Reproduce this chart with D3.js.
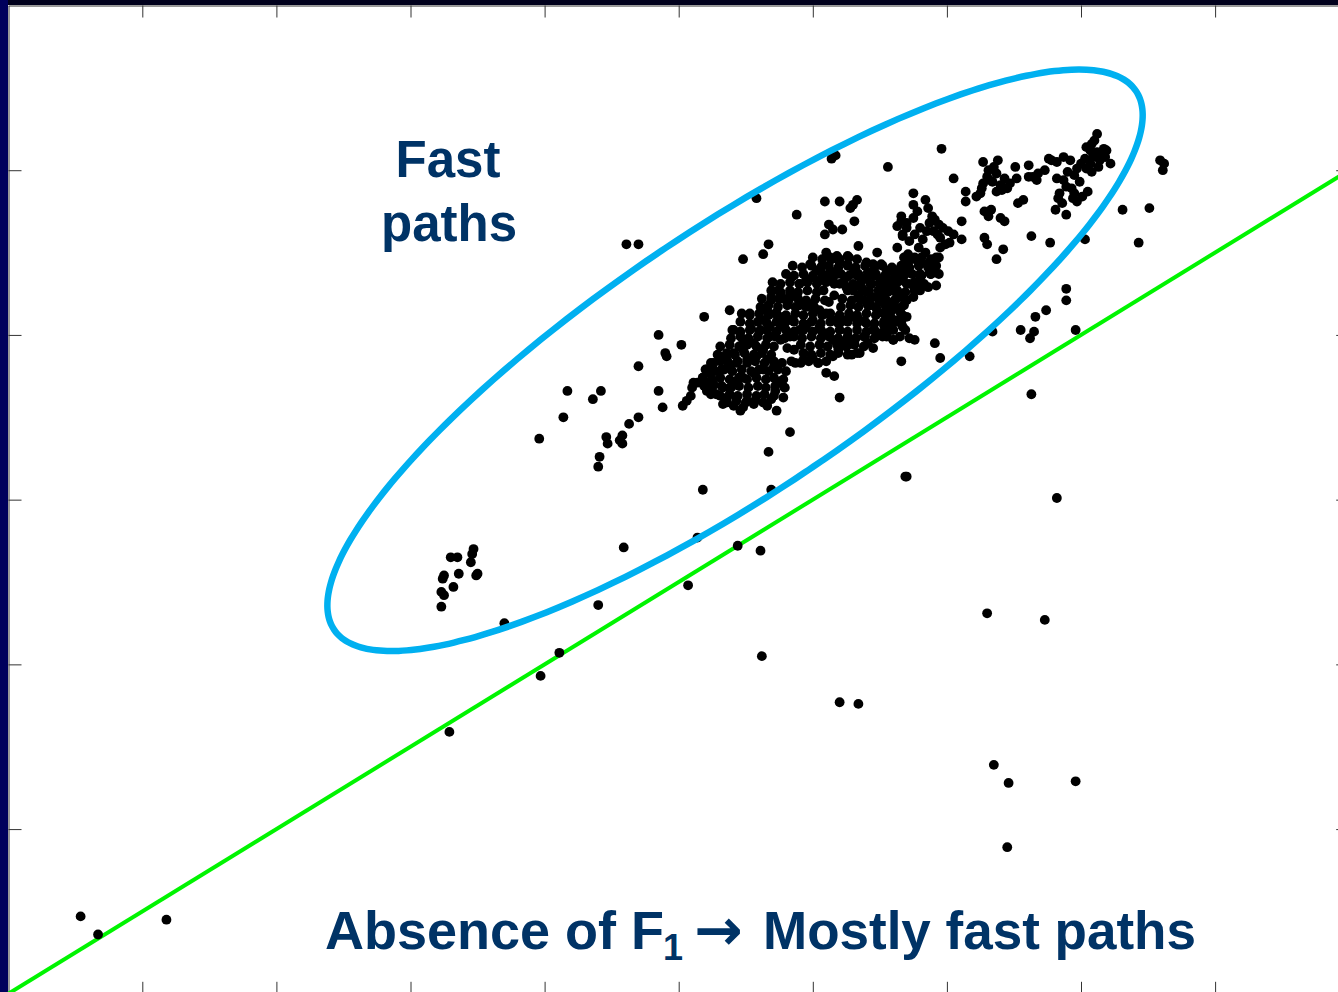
<!DOCTYPE html>
<html><head><meta charset="utf-8">
<script src="https://cdn.jsdelivr.net/npm/d3@7"></script>
<style>html,body{margin:0;padding:0;background:#fff;overflow:hidden}</style>
</head><body>
<svg id="chart" width="1338" height="992"></svg>
<script>
// ---- data (unlabelled axes: x 0..10, y 0..6) ----
const xTicks = [1,2,3,4,5,6,7,8,9];
const yTicks = [1,2,3,4,5];
const refLine = [[0,0],[10,5]];
const ellipseCenter = [5.42, 3.846];
const ellipseMajor = [2.99, 1.635];
const ellipseMinor = [0.549, -0.665];
const labelFast = ["Fast", "paths"];
const labelBottom = ["Absence of F", "1", "\u2192", "Mostly fast paths"];

const outlierPts = [[0.54,0.47],[0.67,0.36],[1.18,0.45],[3.29,1.59],[3.97,1.93],[4.11,2.07],[3.70,2.25],[4.40,2.36],[4.59,2.71],[5.07,2.48],[5.14,2.77],[5.44,2.72],[5.61,2.69],[5.62,2.05],[6.20,1.77],[6.34,1.76],[7.30,2.31],[7.73,2.27],[7.35,1.39],[7.46,1.28],[7.96,1.29],[7.45,0.89],[7.82,3.01],[6.69,3.14],[6.70,3.14],[5.18,3.06],[5.69,3.06],[5.67,3.29],[7.63,3.64],
[7.89,4.28],[7.89,4.21],[7.74,4.15],[7.66,4.11],[7.55,4.03],[7.65,4.02],[7.62,3.98],[7.96,4.03],[7.34,4.02],[7.17,3.87],
[8.43,4.56],[8.51,4.77],[8.31,4.76],[8.59,5.06],[8.62,5.04],[8.61,5.00],[8.03,4.58],[7.77,4.56],[7.63,4.60]];

const lowerCluster = [[3.30,2.65],[3.35,2.65],[3.47,2.70],[3.46,2.67],[3.45,2.62],[3.25,2.54],[3.24,2.52],[3.36,2.55],[3.50,2.55],[3.49,2.54],[3.32,2.47],[3.23,2.44],[3.25,2.42],[3.23,2.35]];

const leftScatter = [[3.96,3.37],[4.17,3.66],[4.14,3.50],[4.36,3.61],[4.42,3.66],[4.40,3.20],[4.41,3.26],[4.46,3.38],[4.47,3.34],[4.58,3.39],[4.56,3.36],[4.58,3.34],[4.63,3.46],[4.70,3.50],[4.61,4.55],[4.70,4.55],[4.85,4.00],[4.90,3.89],[4.91,3.87],[5.02,3.94],[4.70,3.81],[4.85,3.66],[4.88,3.56]];

const upperCluster = [[8.12,5.22],[8.08,5.16],[8.04,5.14],[8.07,5.12],[8.12,5.11],[8.17,5.13],[8.19,5.12],[8.09,5.08],[8.14,5.06],[8.07,5.04],[8.04,5.01],[8.08,4.99],[8.13,5.02],[8.22,5.04],[8.18,5.08],[8.00,5.04],[7.97,5.01],[7.92,5.06],[7.87,5.08],[7.82,5.05],[7.78,5.06],[7.76,5.07],[7.87,4.94],[7.82,4.95],[7.89,4.90],[7.93,4.89],[7.84,4.86],[7.83,4.83],[7.94,4.83],[7.97,4.81],[8.01,4.84],[8.05,4.87],[7.99,4.93],[7.81,4.76],[7.89,4.73],[7.73,5.00],[7.68,4.98],[7.64,4.96],[7.61,4.96],[7.61,5.03],[7.67,4.94],[7.51,5.02],[7.52,4.95],[7.47,4.92],[7.45,4.89],[7.41,4.88],[7.40,4.91],[7.37,4.98],[7.38,5.06],[7.31,5.00],[7.30,4.96],[7.32,4.94],[7.37,4.87],[7.27,5.05],[7.27,4.92],[7.25,4.86],[7.22,4.84],[7.28,4.75],[7.31,4.72],[7.33,4.76],[7.40,4.71],[7.43,4.69],[7.28,4.59],[7.30,4.55],[7.37,4.46],[7.42,4.52],[7.53,4.80],[7.57,4.82],[7.05,4.95],[7.14,4.87],[7.14,4.81],[7.11,4.69],[6.96,5.13],
[8.10,5.18],[8.15,5.09],[8.03,5.07],[7.95,4.97],[7.90,4.99],[7.34,4.93],[7.35,5.02],[7.43,4.95],[7.26,4.89],[7.95,4.86],[7.86,4.80]];

const upperMiddle = [[6.75,4.86],[6.75,4.79],[6.75,4.71],[6.84,4.82],[6.86,4.77],[6.89,4.72],[6.91,4.70],[6.94,4.67],[6.97,4.65],[7.01,4.63],[7.05,4.61],[7.11,4.58],[7.02,4.56],[6.95,4.59],[6.90,4.63],[6.85,4.63],[6.80,4.65],[6.76,4.61],[6.70,4.68],[6.66,4.72],[6.67,4.61],[6.72,4.57],[6.79,4.53],[6.71,4.49],[6.70,4.43],[6.80,4.37],[6.89,4.43],[6.92,4.47],[6.95,4.53],[6.99,4.55],[6.91,4.38],
[6.17,5.09],[6.14,5.07],[6.56,5.02],[5.58,4.83],[6.09,4.81],[6.20,4.81],[6.33,4.82],[6.30,4.79],[6.28,4.77],[5.88,4.73],[6.12,4.67],[6.15,4.64],[6.22,4.64],[6.09,4.61],[6.31,4.69],[6.66,4.69],[6.63,4.66],[6.70,4.65],[6.67,4.60],
[6.82,4.58],[6.87,4.68],[6.78,4.75],[6.93,4.61],[6.84,4.50],[6.76,4.47]];

const mainCluster = [[5.67,4.55],[5.63,4.49],[5.48,4.46],[6.34,4.54],[6.26,4.48],[6.48,4.50],[6.63,4.53],[6.79,4.44],[6.87,4.38],[6.85,4.43],[6.10,4.50],[6.14,4.46],[6.18,4.48],[6.20,4.44],[6.26,4.43],[6.30,4.40],[5.98,4.43],[6.03,4.39],[6.07,4.42],[6.40,4.44],[6.45,4.43],[6.51,4.43],[6.55,4.39],[6.60,4.39],[6.65,4.40],[6.70,4.38],[6.41,4.38],[6.46,4.36],[6.53,4.35],[6.58,4.33],[6.63,4.35],[6.67,4.33],[6.72,4.31],[6.76,4.28],[6.80,4.27],[6.75,4.23],[6.70,4.21],[6.65,4.23],[6.60,4.27],[6.54,4.29],[6.50,4.31],[6.44,4.31],[6.38,4.34],[6.33,4.36],[5.84,4.35],[5.90,4.31],[5.95,4.33],[6.00,4.35],[6.05,4.33],[6.10,4.35],[6.15,4.33],[6.20,4.31],[6.25,4.29],[6.30,4.27],[6.34,4.24],[6.38,4.21],[6.43,4.18],[6.48,4.15],[6.53,4.13],[6.58,4.11],[6.63,4.09],[6.67,4.05],[6.70,4.11],[6.66,4.17],[6.58,4.19],[6.51,4.20],[6.45,4.23],[6.40,4.26],[6.33,4.30],[6.25,4.35],[6.18,4.37],[6.13,4.39],[5.74,4.27],[5.69,4.23],[5.78,4.22],[5.83,4.25],[5.88,4.23],[5.90,4.18],[5.95,4.17],[6.00,4.19],[6.05,4.15],[6.10,4.13],[6.15,4.09],[6.20,4.07],[6.25,4.09],[6.30,4.11],[6.35,4.09],[6.40,4.07],[6.45,4.03],[6.50,4.01],[6.55,3.99],[6.60,3.97],[6.65,3.99],[5.66,4.15],[5.72,4.13],[5.78,4.11],[5.83,4.09],[5.76,4.05],[5.68,4.05],[5.63,4.09],[5.61,4.03],[5.68,3.99],[5.76,3.97],[5.83,3.99],[5.90,4.03],[5.95,4.05],[6.00,4.09],[6.05,4.05],[6.10,4.01],[6.15,3.97],[6.20,3.95],[6.25,3.97],[6.31,3.95],[6.38,3.99],[6.41,3.95],[6.45,3.92],[6.35,3.89],[6.29,3.88],[6.25,3.93],[6.19,3.91],[6.15,3.87],[6.10,3.84],[6.04,3.83],[6.00,3.86],[5.93,3.85],[5.87,3.83],[6.20,3.62],[6.10,3.77],[6.16,3.75],[5.53,4.13],[5.38,4.15],[5.19,4.11],[5.41,4.03],[5.54,4.04],[5.48,3.97],[5.56,3.95],[5.48,3.91],[5.41,3.89],[5.36,3.85],[5.31,3.87],[5.26,3.83],[5.21,3.79],[5.18,3.74],[5.25,3.81],[5.32,3.79],[5.38,3.81],[5.43,3.83],[5.51,3.85],[5.58,3.87],[5.63,3.91],[5.66,3.85],[5.71,3.81],[5.63,3.79],[5.56,3.77],[5.48,3.74],[5.43,3.72],[5.38,3.68],[5.33,3.68],[5.26,3.70],[5.21,3.66],[5.28,3.64],[5.36,3.62],[5.43,3.62],[5.51,3.60],[5.56,3.58],[5.48,3.56],[5.41,3.57],[5.33,3.58],[5.76,3.72],[5.79,3.68],[5.72,3.66],[5.78,3.62],[5.69,3.61],[5.66,3.57],[5.03,3.57],[5.06,3.60],[5.09,3.63],[5.11,3.71],[5.14,3.71],[5.10,3.68],[5.22,3.77],[5.22,3.71],[5.46,3.54],[5.73,3.54],[5.83,3.41],
[6.54,4.36],[6.58,4.30],[6.52,4.24],[6.61,4.21],[6.65,4.14],[6.56,4.14],[6.63,4.08],[6.69,4.03],[6.58,4.03],[6.53,4.06],[6.72,3.98],[6.60,3.97],
[6.92,4.30],[6.86,4.29],[6.94,4.37],[6.88,4.37],[6.80,4.35],[6.80,4.32],[6.76,4.27],[6.91,3.95],[6.76,3.97],[6.66,3.84],[6.95,3.86],
[6.08,4.27],[6.12,4.20],[6.16,4.24],[6.37,4.28],[6.42,4.27],[5.81,3.92],[5.86,3.91],[6.59,4.15]];

// densely packed core, where single dots merge into a solid blob
const coreFill = [
[6.00,4.47],[6.07,4.46],[6.13,4.47],[6.20,4.46],[6.27,4.47],[6.33,4.46],[6.68,4.47],[6.74,4.46],[6.81,4.47],[6.88,4.46],[6.94,4.47],
[5.85,4.42],[5.92,4.41],[5.99,4.42],[6.06,4.41],[6.12,4.42],[6.19,4.41],[6.26,4.42],[6.32,4.41],[6.39,4.42],[6.46,4.41],[6.52,4.42],[6.59,4.41],[6.66,4.42],[6.72,4.41],[6.79,4.42],[6.86,4.41],[6.92,4.42],
[5.80,4.37],[5.86,4.36],[5.93,4.37],[6.00,4.36],[6.07,4.37],[6.14,4.36],[6.21,4.37],[6.27,4.36],[6.34,4.37],[6.41,4.36],[6.47,4.37],[6.54,4.36],[6.61,4.37],[6.68,4.36],[6.74,4.37],[6.81,4.36],[6.88,4.37],
[5.70,4.32],[5.76,4.31],[5.83,4.32],[5.90,4.31],[5.96,4.32],[6.03,4.31],[6.10,4.32],[6.16,4.31],[6.23,4.32],[6.30,4.31],[6.36,4.32],[6.43,4.31],[6.50,4.32],[6.56,4.31],[6.63,4.32],[6.70,4.31],[6.76,4.32],[6.83,4.31],
[5.69,4.27],[5.76,4.26],[5.83,4.27],[5.89,4.26],[5.96,4.27],[6.03,4.26],[6.26,4.27],[6.49,4.27],[6.56,4.26],[6.63,4.27],[6.69,4.26],[6.76,4.27],
[5.62,4.22],[5.69,4.21],[5.75,4.22],[5.82,4.21],[5.89,4.22],[5.95,4.21],[6.02,4.22],[6.09,4.21],[6.22,4.22],[6.29,4.21],[6.35,4.22],[6.42,4.21],[6.49,4.22],[6.55,4.21],[6.62,4.22],[6.69,4.21],
[5.61,4.17],[5.67,4.18],[5.74,4.17],[5.81,4.18],[5.87,4.17],[5.94,4.18],[6.01,4.17],[6.21,4.17],[6.28,4.18],[6.34,4.17],[6.41,4.18],[6.47,4.17],[6.54,4.18],[6.61,4.17],[6.68,4.18],
[5.47,4.13],[5.53,4.12],[5.60,4.13],[5.67,4.12],[5.73,4.13],[5.80,4.12],[5.87,4.13],[5.93,4.12],[6.00,4.13],[6.07,4.12],[6.13,4.13],[6.20,4.12],[6.27,4.13],[6.33,4.12],[6.40,4.13],[6.47,4.12],[6.53,4.13],[6.67,4.12],
[5.46,4.08],[5.53,4.07],[5.59,4.08],[5.66,4.07],[5.73,4.08],[5.79,4.07],[5.86,4.08],[5.93,4.07],[5.99,4.08],[6.06,4.07],[6.13,4.08],[6.19,4.07],[6.26,4.08],[6.33,4.07],[6.39,4.08],[6.46,4.07],[6.53,4.08],[6.59,4.07],[6.66,4.08],
[5.40,4.03],[5.46,4.02],[5.53,4.03],[5.60,4.02],[5.66,4.03],[5.73,4.02],[5.80,4.03],[5.86,4.02],[5.93,4.03],[6.00,4.02],[6.06,4.03],[6.13,4.02],[6.20,4.03],[6.26,4.02],[6.33,4.03],[6.40,4.02],[6.46,4.03],[6.53,4.02],[6.60,4.03],
[5.39,3.98],[5.46,3.99],[5.52,3.98],[5.59,3.99],[5.66,3.98],[5.72,3.99],[5.79,3.98],[5.86,3.99],[5.92,3.98],[5.99,3.99],[6.06,3.98],[6.12,3.99],[6.19,3.98],[6.26,3.99],[6.32,3.98],[6.39,3.99],[6.46,3.98],[6.52,3.99],
[5.31,3.93],[5.38,3.94],[5.45,3.93],[5.51,3.94],[5.58,3.93],[5.65,3.94],[5.71,3.93],[5.91,3.94],[5.98,3.93],[6.05,3.94],[6.11,3.93],[6.18,3.94],[6.25,3.93],[6.31,3.94],[6.38,3.93],
[5.29,3.88],[5.36,3.89],[5.42,3.88],[5.49,3.89],[5.56,3.88],[5.62,3.89],[5.69,3.88],[5.93,3.89],[5.99,3.88],[6.06,3.89],[6.13,3.88],[6.19,3.89],[6.26,3.88],[6.33,3.89],
[5.24,3.83],[5.31,3.84],[5.37,3.83],[5.44,3.84],[5.51,3.83],[5.57,3.84],[5.64,3.83],[5.71,3.84],[5.77,3.83],[5.84,3.84],[5.91,3.83],[5.97,3.84],[6.04,3.83],
[5.20,3.79],[5.27,3.78],[5.34,3.79],[5.40,3.78],[5.47,3.79],[5.54,3.78],[5.60,3.79],[5.67,3.78],[5.74,3.79],[5.80,3.78],
[5.18,3.74],[5.25,3.73],[5.31,3.74],[5.38,3.73],[5.45,3.74],[5.51,3.73],[5.58,3.74],[5.65,3.73],[5.71,3.74],[5.78,3.73],
[5.19,3.69],[5.25,3.68],[5.32,3.69],[5.39,3.68],[5.45,3.69],[5.52,3.68],[5.59,3.69],[5.65,3.68],[5.72,3.69],[5.79,3.68],
[5.24,3.64],[5.31,3.63],[5.38,3.64],[5.44,3.63],[5.51,3.64],[5.58,3.63],[5.64,3.64],[5.71,3.63],
[5.36,3.59],[5.43,3.60],[5.50,3.59],[5.57,3.60],[5.63,3.59]];

// ---- drawing ----
const svg = d3.select("#chart");
const W = 1338, H = 992;
const x = d3.scaleLinear().domain([0,10]).range([8.2, 1349.2]);
const y = d3.scaleLinear().domain([0,6]).range([993.8, 5.5]);

svg.append("rect").attr("width", W).attr("height", H).attr("fill", "#fff");
// slide frame strips
svg.append("rect").attr("x",0).attr("y",0).attr("width",W).attr("height",5).attr("fill","#00001c");
svg.append("rect").attr("x",0).attr("y",0).attr("width",8).attr("height",H).attr("fill","#00005c");

// axes (no labels, inward ticks)
const axStyle = g => { g.selectAll("text").remove(); g.selectAll("line,path").attr("stroke","#333").attr("stroke-width",1); };
svg.append("g").attr("transform",`translate(0,${y(6)})`)
  .call(d3.axisBottom(x).tickValues(xTicks).tickSize(12).tickSizeOuter(0)).call(axStyle);
svg.append("g").attr("transform",`translate(0,${y(0)})`)
  .call(d3.axisTop(x).tickValues(xTicks).tickSize(12).tickSizeOuter(0)).call(axStyle);
svg.append("g").attr("transform",`translate(${x(0)+0.3},0)`)
  .call(d3.axisRight(y).tickValues(yTicks).tickSize(13).tickSizeOuter(0)).call(axStyle);
svg.append("g").attr("transform",`translate(${x(10)},0)`)
  .call(d3.axisLeft(y).tickValues(yTicks).tickSize(13).tickSizeOuter(0)).call(axStyle);

// reference line
svg.append("path").datum(refLine)
  .attr("d", d3.line().x(d=>x(d[0])).y(d=>y(d[1])))
  .attr("stroke","#00f400").attr("stroke-width",4).attr("fill","none");

// points
const allPts = [].concat(outlierPts, lowerCluster, leftScatter, upperCluster, upperMiddle, mainCluster, coreFill);
svg.append("g").selectAll("circle").data(allPts).join("circle")
  .attr("cx", d=>x(d[0])).attr("cy", d=>y(d[1])).attr("r", 4.9).attr("fill","#000");

// ellipse annotation
const ellPts = d3.range(0, 360, 2).map(a => {
  const t = a*Math.PI/180;
  return [ellipseCenter[0] + Math.cos(t)*ellipseMajor[0] + Math.sin(t)*ellipseMinor[0],
          ellipseCenter[1] + Math.cos(t)*ellipseMajor[1] + Math.sin(t)*ellipseMinor[1]];
});
svg.append("path").datum(ellPts)
  .attr("d", d3.line().x(d=>x(d[0])).y(d=>y(d[1])).curve(d3.curveCardinalClosed))
  .attr("stroke","#00b0f0").attr("stroke-width",6.5).attr("fill","none");

// texts
const navy = "#003366";
const tf = svg.append("text").attr("text-anchor","middle")
  .attr("font-family","'Liberation Sans', Arial, sans-serif").attr("font-weight","bold")
  .attr("font-size",51).attr("fill",navy);
tf.append("tspan").attr("x",448).attr("y",177).text(labelFast[0]);
tf.append("tspan").attr("x",449).attr("y",241).text(labelFast[1]);

const tb = svg.append("text").attr("x",325).attr("y",949)
  .attr("font-family","'Liberation Sans', Arial, sans-serif").attr("font-weight","bold")
  .attr("font-size",54).attr("fill",navy);
tb.append("tspan").text(labelBottom[0]);
tb.append("tspan").attr("x",663).attr("y",960).attr("font-size",36).text(labelBottom[1]);
tb.append("tspan").attr("x",694).attr("y",950).attr("font-size",58).attr("font-family","'DejaVu Sans', sans-serif").text(labelBottom[2]);
tb.append("tspan").attr("x",763).attr("y",949).attr("font-size",53).text(labelBottom[3]);
</script>
</body></html>
